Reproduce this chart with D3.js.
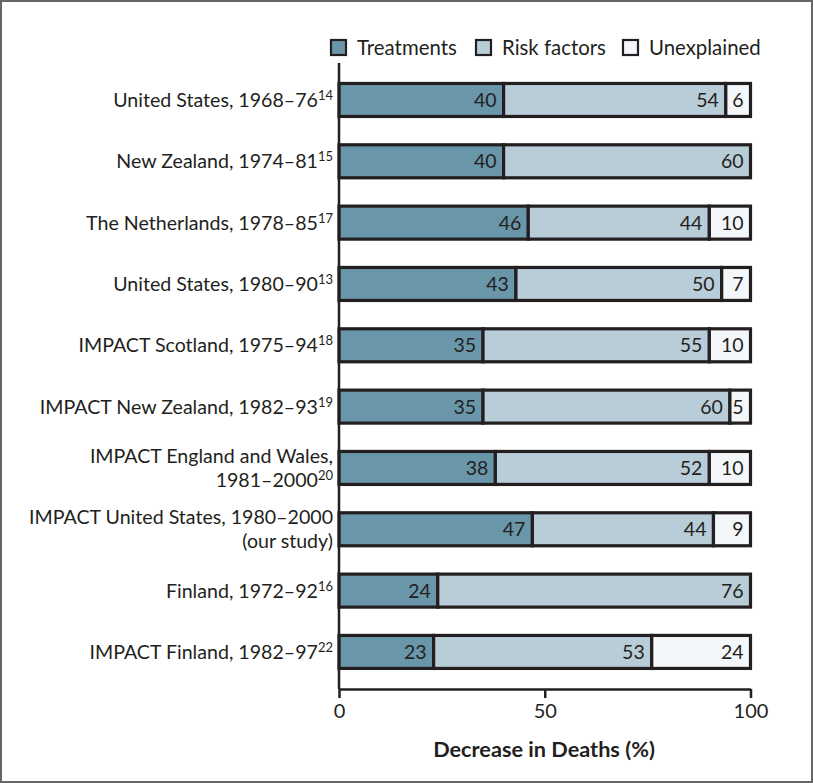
<!DOCTYPE html>
<html><head><meta charset="utf-8">
<script src="https://cdn.jsdelivr.net/npm/d3@7"></script>
<style>
body{margin:0;background:#fff;}
svg{display:block;font-family:Lato,"Open Sans",sans-serif;}
</style></head><body>
<svg id="c" width="813" height="783"></svg>
<script>
const studies = [
  ["United States, 1968–76"],
  ["New Zealand, 1974–81"],
  ["The Netherlands, 1978–85"],
  ["United States, 1980–90"],
  ["IMPACT Scotland, 1975–94"],
  ["IMPACT New Zealand, 1982–93"],
  ["IMPACT England and Wales,", "1981–2000"],
  ["IMPACT United States, 1980–2000", "(our study)"],
  ["Finland, 1972–92"],
  ["IMPACT Finland, 1982–97"]
];
const refs = ["14","15","17","13","18","19","20","","16","22"];
const treatments = [40,40,46,43,35,35,38,47,24,23];
const riskFactors = [54,60,44,50,55,60,52,44,76,53];
const unexplained = [6,0,10,7,10,5,10,9,0,24];
const seriesNames = ["Treatments","Risk factors","Unexplained"];
const colors = ["#6a96aa","#b9cdd8","#f3f7f9"];
const xTicks = [0,50,100];

const svg = d3.select("#c");
const ink = "#231f20";
// frame
svg.append("rect").attr("x",1).attr("y",1).attr("width",811).attr("height",781)
  .attr("fill","none").attr("stroke","#666").attr("stroke-width",2);

const x = d3.scaleLinear().domain([0,100]).range([339,750.5]);
const y = d3.scaleBand().domain(d3.range(studies.length)).range([69.3,682.6]).paddingInner(0.45).paddingOuter(0.225);

const rows = studies.map((s,i)=>({i, vals:[treatments[i],riskFactors[i],unexplained[i]]}));
const g = svg.append("g");
rows.forEach(r=>{
  let acc=0;
  r.vals.forEach((v,k)=>{
    if(!v) return;
    const x0=x(acc), x1=x(acc+v);
    const cy = y(r.i)+y.bandwidth()/2;
    g.append("rect").attr("x",x0).attr("y",cy-16.5).attr("width",x1-x0).attr("height",33)
      .attr("fill",colors[k]).attr("stroke",ink).attr("stroke-width",3.2);
    g.append("text").attr("x",x1-7).attr("y",cy).attr("dy","0.36em")
      .attr("text-anchor","end").attr("font-size",19.5).attr("fill",ink).text(v);
    acc+=v;
  });
});

// y axis line
svg.append("line").attr("x1",x(0)).attr("x2",x(0)).attr("y1",63).attr("y2",689)
  .attr("stroke",ink).attr("stroke-width",2.5);

// category labels
studies.forEach((lines,i)=>{
  const cy = y(i)+y.bandwidth()/2;
  const n = lines.length;
  lines.forEach((ln,j)=>{
    const t = svg.append("text").attr("x",333).attr("y",cy + (j-(n-1)/2)*24).attr("dy","0.36em")
      .attr("text-anchor","end").attr("font-size",19.6).attr("fill",ink);
    t.append("tspan").text(ln);
    if(j===n-1 && refs[i]) t.append("tspan").attr("font-size",13).attr("dy","-0.55em").text(refs[i]);
  });
});

// x axis
const xa = svg.append("g").attr("transform","translate(0,689)")
  .call(d3.axisBottom(x).tickValues(xTicks).tickSize(9).tickPadding(6).tickSizeOuter(0));
xa.select(".domain").attr("stroke",ink).attr("stroke-width",2.5);
xa.selectAll(".tick line").attr("stroke",ink).attr("stroke-width",2.5);
xa.selectAll(".tick text").attr("font-size",20).attr("fill",ink).attr("font-family","Lato,sans-serif");

svg.append("text").attr("x",544).attr("y",757).attr("text-anchor","middle")
  .attr("font-size",21.7).attr("font-weight","bold").attr("fill",ink).text("Decrease in Deaths (%)");

// legend
const legX = [331,476,623];
seriesNames.forEach((s,k)=>{
  svg.append("rect").attr("x",legX[k]).attr("y",40).attr("width",15).attr("height",15)
    .attr("fill",colors[k]).attr("stroke",ink).attr("stroke-width",2.2);
  svg.append("text").attr("x",legX[k]+26).attr("y",47.5).attr("dy","0.36em")
    .attr("font-size",20.4).attr("fill",ink).text(s);
});
</script>
</body></html>
